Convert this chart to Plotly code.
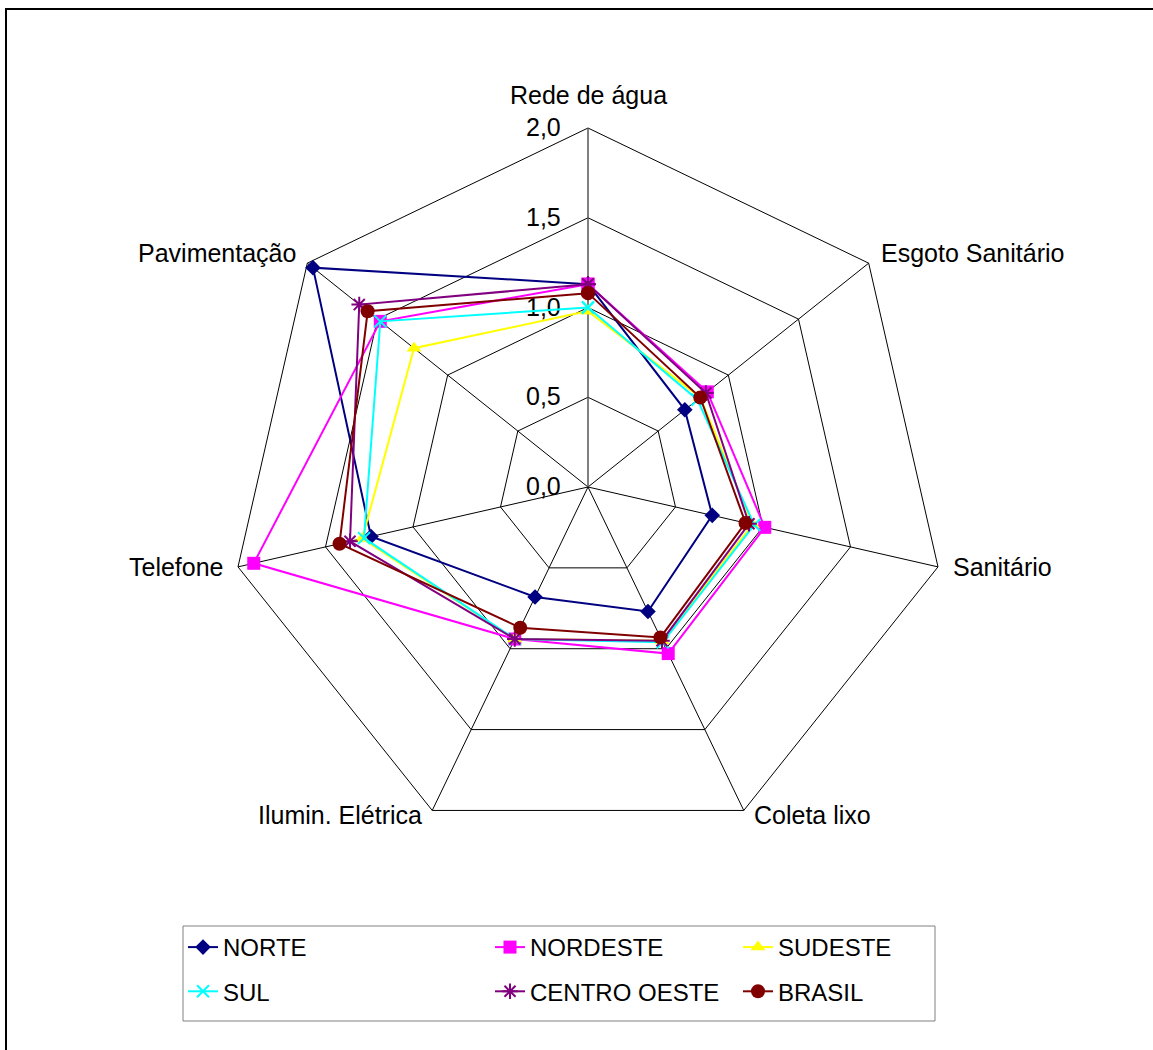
import math
import plotly.graph_objects as go

# Eixos do radar (sentido horário, começando no topo)
categorias = ["Rede de água", "Esgoto Sanitário", "Sanitário", "Coleta lixo",
              "Ilumin. Elétrica", "Telefone", "Pavimentação"]

# Índices por região
norte = [1.13, 0.69, 0.71, 0.77, 0.68, 1.24, 1.96]
nordeste = [1.13, 0.85, 1.01, 1.03, 0.94, 1.91, 1.48]
sudeste = [0.98, 0.80, 0.94, 0.95, 0.94, 1.29, 1.24]
sul = [1.00, 0.78, 0.95, 0.96, 0.94, 1.28, 1.48]
centro_oeste = [1.13, 0.84, 0.92, 0.95, 0.94, 1.36, 1.63]
brasil = [1.08, 0.80, 0.90, 0.93, 0.87, 1.42, 1.57]

radial_ticks = [0.0, 0.5, 1.0, 1.5, 2.0]

# nome, valores, cor, símbolo, tamanho, coluna da legenda
series = [
    ("NORTE", norte, "#000080", "diamond", 12, "legend"),
    ("NORDESTE", nordeste, "#FF00FF", "square", 13, "legend2"),
    ("SUDESTE", sudeste, "#FFFF00", "triangle-up", 13, "legend3"),
    ("SUL", sul, "#00FFFF", "x-thin-open", 12, "legend"),
    ("CENTRO OESTE", centro_oeste, "#800080", "asterisk-open", 13, "legend2"),
    ("BRASIL", brasil, "#800000", "circle", 14, "legend3"),
]

W, H = 1153, 1050
PW, PH = W, H

def px(x):
    return x / PW

def py(y):
    return 1 - y / PH

FONT = "Liberation Sans, Arial, sans-serif"

fig = go.Figure()
for nome, vals, cor, simbolo, tam, leg in series:
    fig.add_trace(go.Scatterpolar(
        r=vals + vals[:1],
        theta=categorias + categorias[:1],
        mode="lines+markers",
        name=nome,
        legend=leg,
        legendgroup=nome,
        line=dict(color=cor, width=2),
        marker=dict(symbol=simbolo, size=tam, color=cor,
                    line=dict(color=cor, width=2 if "open" in simbolo else 0)),
    ))

# Geometria do radar (px)
cx, cy, rad = 588, 487, 359

# Rótulos dos eixos: deslocamento (dx, dy) a partir do vértice externo
label_offsets = [(0, -33), (10, -10), (13, 0), (8, 5), (-8, 5), (-12, 0), (-9, -10)]
annotations = []
n = len(categorias)
for i, (cat, (dx, dy)) in enumerate(zip(categorias, label_offsets)):
    ang = math.radians(i * 360 / n)
    vx = cx + rad * math.sin(ang)
    vy = cy - rad * math.cos(ang)
    s = math.sin(ang)
    anchor = "left" if s > 0.1 else ("right" if s < -0.1 else "center")
    annotations.append(dict(
        x=px(vx + dx), y=py(vy + dy), xref="paper", yref="paper",
        text=cat, showarrow=False, xanchor=anchor, yanchor="middle",
        font=dict(family=FONT, size=25, color="black"),
    ))

legend_common = dict(
    orientation="v",
    yanchor="top",
    y=py(925),
    xanchor="left",
    bgcolor="rgba(0,0,0,0)",
    borderwidth=0,
    tracegroupgap=10,
    font=dict(family=FONT, size=24, color="black"),
    traceorder="grouped",
)

fig.update_layout(
    width=W, height=H,
    margin=dict(l=0, r=0, t=0, b=0),
    paper_bgcolor="white",
    plot_bgcolor="white",
    separators=",.",
    font=dict(family=FONT, size=24, color="black"),
    polar=dict(
        domain=dict(x=[px(cx - rad), px(cx + rad)], y=[py(cy + rad), py(cy - rad)]),
        bgcolor="white",
        gridshape="linear",
        radialaxis=dict(
            range=[0, 2],
            tickvals=radial_ticks,
            tickformat=".1f",
            angle=90,
            tickangle=90,
            side="counterclockwise",
            showline=True,
            linecolor="#808080",
            linewidth=1,
            gridcolor="black",
            gridwidth=1,
            ticks="outside",
            ticklen=18,
            tickcolor="rgba(0,0,0,0)",
            layer="below traces",
            tickfont=dict(family=FONT, size=25, color="black"),
        ),
        angularaxis=dict(
            direction="clockwise",
            rotation=90,
            showline=True,
            linecolor="black",
            linewidth=1,
            gridcolor="black",
            gridwidth=1,
            ticks="",
            showticklabels=False,
            layer="below traces",
        ),
    ),
    legend=dict(legend_common, x=px(183)),
    legend2=dict(legend_common, x=px(490)),
    legend3=dict(legend_common, x=px(738)),
    annotations=annotations,
    shapes=[
        # moldura externa
        dict(type="rect", xref="paper", yref="paper",
             x0=px(6), y0=py(1100), x1=px(1200), y1=py(9),
             line=dict(color="black", width=2),
             fillcolor="rgba(0,0,0,0)", layer="below"),
        # caixa da legenda
        dict(type="rect", xref="paper", yref="paper",
             x0=px(183), y0=py(1021), x1=px(935), y1=py(926),
             line=dict(color="#808080", width=1),
             fillcolor="white", layer="below"),
    ],
)

fig.write_html("out.html")
